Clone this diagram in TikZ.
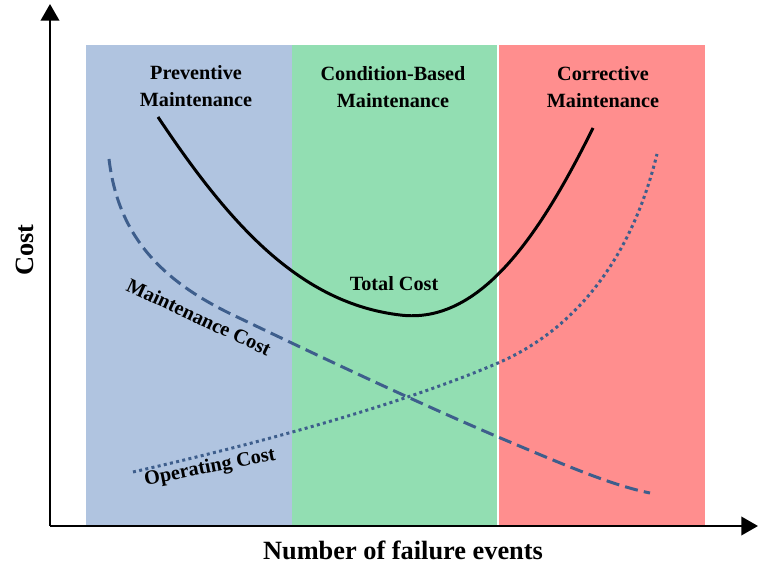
\documentclass[tikz,border=0pt]{standalone}
\usepackage{fontspec}
\setmainfont{Liberation Serif}
\usepackage{tikz}
\usetikzlibrary{calc,arrows.meta}
\definecolor{pmblue}{RGB}{176,196,224}
\definecolor{cbmgreen}{RGB}{146,222,178}
\definecolor{cmred}{RGB}{255,142,142}
\definecolor{costblue}{RGB}{62,94,140}

\begin{document}
\begin{tikzpicture}[x=0.02cm,y=0.02cm]
                      \tikzstyle{zone}=[font=\bfseries\fontsize{11.5}{15.3}\selectfont,align=center,inner sep=0pt]
                      \tikzstyle{axistext}=[font=\bfseries\fontsize{15}{18}\selectfont,inner sep=0pt]
                      \tikzstyle{axisline}=[line width=1.4pt,-{Triangle[length=9.5pt,width=10.5pt]}]
                      \tikzstyle{costline}=[costblue,line width=1.7pt]
                      \useasboundingbox (0,0) rectangle (758,565);
                      \fill [pmblue] (86,39) rectangle (292,520);
                      \fill [cbmgreen] (292,39) rectangle (498,520);
                      \fill [cmred] (498,39) rectangle (705,520);
                      \draw [white, line width=0.8pt] (498,39) -- (498,520);
                      \coordinate (o) at (50,39);
                      \coordinate (ytip) at (50,561);
                      \coordinate (xtip) at (758,39);
                      \draw [axisline] (o) -- (ytip);
                      \draw [axisline] (o) -- (xtip);
                      \node [axistext, rotate=90] (cost) at (25,315) {Cost};
                      \node [axistext] (events) at (403,15) {Number of failure events};
                      \node [zone] (pm) at (196,479) {Preventive\\Maintenance};
                      \node [zone] (cbm) at (393,478) {Condition-Based\\Maintenance};
                      \node [zone] (cm) at (603,478) {Corrective\\Maintenance};
                      % curves
                      \draw [line width=1.7pt] (158,448) .. controls (230,340) and (300,262) .. (400,250) .. controls (480,240) and (540,330) .. (593,437);
                      \draw [costline, dash pattern=on 7.5pt off 3.5pt] (109,406) .. controls (118,330) and (160,285) .. (233,250) .. controls (300,218) and (400,170) .. (498,128) .. controls (560,102) and (610,80) .. (650,72);
                      \draw [costline, dash pattern=on 1.7pt off 1.9pt] (133,93) .. controls (260,122) and (400,160) .. (498,202) .. controls (570,233) and (630,300) .. (657,411);
                      \node [zone] (total) at (394,281) {Total Cost};
                      \node [zone, rotate=-25] (maint) at (199,248) {Maintenance Cost};
                      \node [zone, rotate=11] (oper) at (210,97) {Operating Cost};
                  \end{tikzpicture}
\end{document}
